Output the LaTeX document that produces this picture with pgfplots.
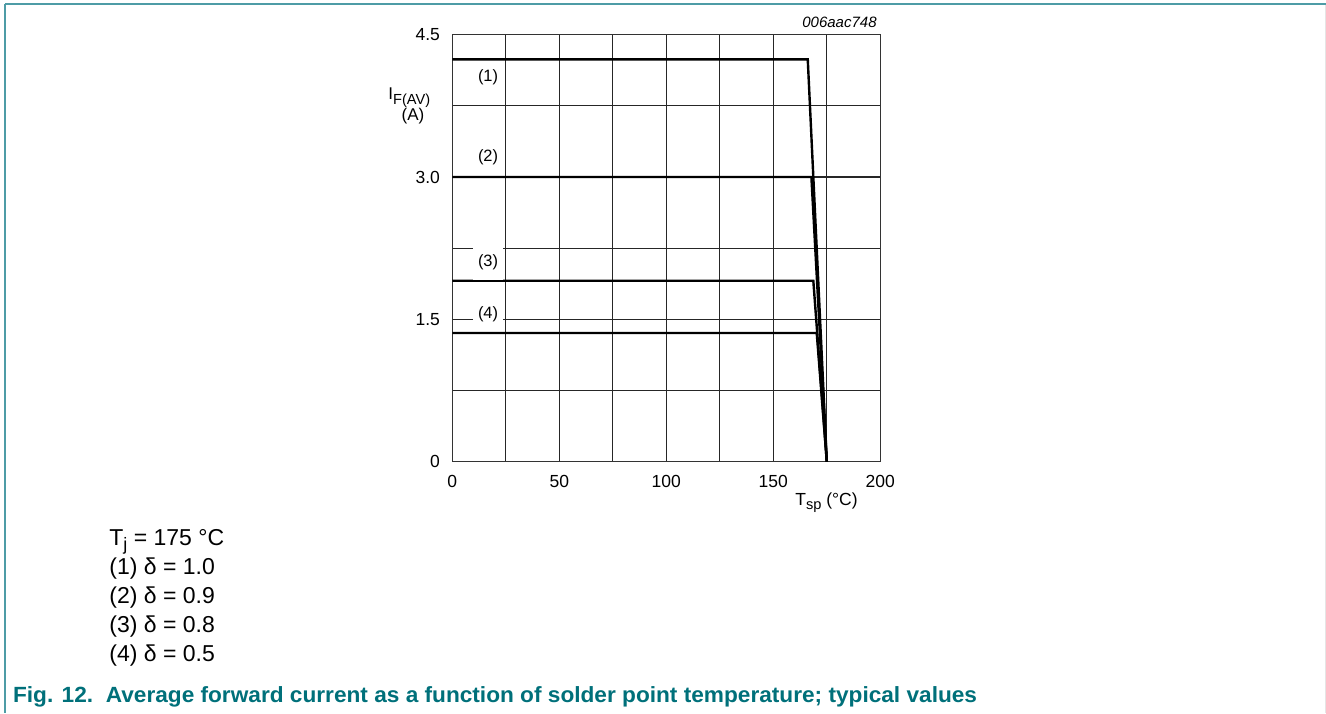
\documentclass[border=0pt]{standalone}
\usepackage{pgfplots}
\pgfplotsset{compat=1.18}
\usepackage{fontspec}
\setmainfont{Liberation Sans}
\usepackage{graphicx}

\definecolor{nxpteal}{RGB}{0,112,122}
\definecolor{framecol}{RGB}{78,156,166}

\begin{document}
\begin{tikzpicture}
% canvas: 1px = 0.5pt, 1326 x 713 px
\path[use as bounding box] (0,0) rectangle (663pt,356.5pt);
\draw[framecol, line width=1pt] (2.5pt,354.5pt) -- (663pt,354.5pt);
\draw[framecol, line width=0.6pt] (2.5pt,354.5pt) -- (2.5pt,0pt);
\draw[black!10, line width=0.5pt] (662.6pt,354pt) -- (662.6pt,0pt);

\begin{axis}[
  at={(226.15pt,125.65pt)}, anchor=south west,
  width=214pt, height=213.5pt, scale only axis,
  xmin=0, xmax=200, ymin=0, ymax=4.5,
  xtick={0,50,100,150,200}, xticklabels={0,50,100,150,200},
  ytick={0,1.5,3,4.5}, yticklabels={0,1.5,3.0,4.5},
  minor xtick={25,75,125,175}, minor ytick={0.75,2.25,3.75},
  grid=both,
  major grid style={black!85, line width=0.55pt},
  minor grid style={black!85, line width=0.55pt},
  axis line style={black!80, line width=0.55pt},
  major tick length=0pt, minor tick length=0pt,
  /pgf/number format/assume math mode=true,
  tick label style={font=\fontsize{8.75}{10}\selectfont},
  xticklabel style={inner sep=0pt, yshift=-6.5pt},
  yticklabel style={inner sep=0pt, xshift=-6pt},
  clip=false,
]
\addplot[black, line width=1.2pt] coordinates {(0,4.24) (166.1,4.24) (175,0)};
\addplot[black, line width=1.2pt] coordinates {(0,3.0) (167.8,3.0) (175,0)};
\addplot[black, line width=1.2pt] coordinates {(0,1.907) (168.7,1.907) (175,0)};
\addplot[black, line width=1.2pt] coordinates {(0,1.356) (170.3,1.356) (175,0)};

\node[font=\fontsize{8.2}{9}\selectfont, fill=white, inner sep=2pt] at (axis cs:16.7,4.05) {(1)};
\node[font=\fontsize{8.2}{9}\selectfont, fill=white, inner sep=2pt] at (axis cs:16.7,3.21) {(2)};
\node[font=\fontsize{8.2}{9}\selectfont, fill=white, inner xsep=2.5pt, inner ysep=5pt] at (axis cs:16.7,2.10) {(3)};
\node[font=\fontsize{8.2}{9}\selectfont, fill=white, inner xsep=2.5pt, inner ysep=2pt] at (axis cs:16.7,1.556) {(4)};
\end{axis}

% axis labels
\node[anchor=base west, inner sep=0pt, font=\fontsize{8.5}{10}\selectfont] at (194pt,306.5pt)
  {I\raisebox{-0.45ex}{\fontsize{7.3}{9}\selectfont F(AV)}};
\node[inner sep=0pt, font=\fontsize{8.5}{10}\selectfont] at (206.5pt,298.5pt) {(A)};
\node[anchor=base west, inner sep=0pt, font=\fontsize{8.75}{10}\selectfont] at (397.5pt,104pt)
  {T\raisebox{-0.45ex}{\fontsize{7.3}{9}\selectfont sp} (°C)};
\node[anchor=base east, inner sep=0pt, font=\fontsize{7.5}{9}\selectfont\itshape] at (438.5pt,342.5pt) {006aac748};

% conditions
\begin{scope}[every node/.style={anchor=base west, inner sep=0pt, font=\fontsize{11.5}{14}\selectfont}]
\node at (54.5pt,84pt) {T\raisebox{-0.45ex}{\fontsize{9}{10}\selectfont j} = 175 °C};
\node at (54.5pt,69.5pt) {(1) δ = 1.0};
\node at (54.5pt,55pt) {(2) δ = 0.9};
\node at (54.5pt,40.5pt) {(3) δ = 0.8};
\node at (54.5pt,26pt) {(4) δ = 0.5};
\end{scope}

% caption
\node[anchor=base west, inner sep=0pt, text=nxpteal, font=\fontsize{11}{13}\bfseries] at (6.35pt,5.5pt)
  {\resizebox{482pt}{\height}{Fig. 12.\ \ Average forward current as a function of solder point temperature; typical values}};
\end{tikzpicture}
\end{document}
